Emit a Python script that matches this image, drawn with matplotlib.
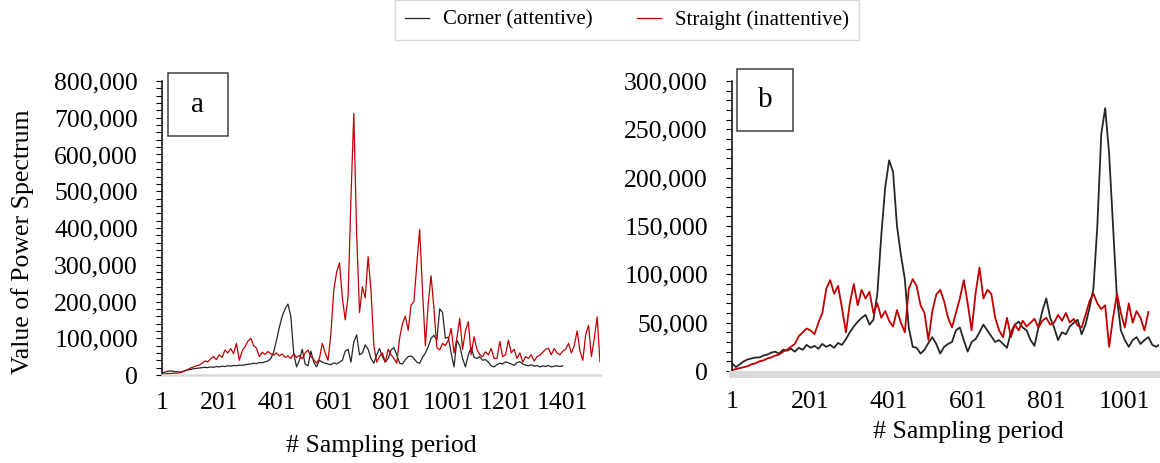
import numpy as np
import matplotlib
matplotlib.use("Agg")
import matplotlib.pyplot as plt
from matplotlib.ticker import MultipleLocator, FuncFormatter
from matplotlib.patches import Rectangle

plt.rcParams['font.family'] = ['Liberation Serif', 'DejaVu Serif']

# values every 10 samples, in thousands
step = 10

a_corner = [5, 8, 10, 11, 10, 9, 8, 9, 12, 14,
            15, 17, 18, 19, 20, 21, 20, 22, 21, 23,
            22, 24, 23, 25, 24, 26, 25, 27, 26, 28,
            29, 30, 32, 31, 34, 33, 36, 38, 45, 62,
            95, 130, 160, 180, 193, 160, 60, 22, 40, 70,
            30, 25, 65, 35, 22, 40, 35, 32, 30, 28,
            33, 30, 35, 40, 65, 70, 35, 90, 109, 55,
            60, 82, 70, 45, 32, 55, 72, 50, 35, 45,
            68, 75, 55, 32, 30, 42, 50, 52, 45, 35,
            32, 48, 60, 77, 100, 108, 95, 180, 170, 100,
            103, 60, 22, 95, 80, 45, 22, 55, 75, 48,
            45, 50, 40, 42, 35, 25, 22, 28, 32, 30,
            36, 33, 30, 26, 34, 36, 30, 27, 25, 28,
            24, 26, 22, 25, 23, 26, 22, 24, 25, 23,
            25]

a_straight = [2, 3, 4, 4, 5, 5, 6, 8, 11, 15,
              19, 22, 25, 27, 32, 38, 36, 44, 50, 42,
              55, 48, 68, 60, 72, 58, 86, 40, 65, 77,
              92, 100, 80, 73, 50, 62, 56, 64, 58, 54,
              60, 52, 57, 48, 52, 45, 58, 48, 53, 44,
              60, 68, 50, 42, 32, 45, 86, 60, 40, 113,
              230, 280, 305, 210, 150, 213, 480, 712, 380, 170,
              240, 210, 322, 230, 80, 35, 50, 60, 35, 70,
              55, 45, 32, 100, 140, 160, 122, 190, 200, 300,
              396, 230, 80, 195, 270, 180, 75, 68, 86, 80,
              95, 127, 60, 100, 154, 70, 120, 145, 55, 104,
              70, 55, 50, 63, 55, 72, 45, 45, 91, 50,
              55, 95, 60, 70, 45, 60, 35, 50, 45, 55,
              38, 50, 54, 62, 70, 73, 55, 72, 60, 55,
              65, 70, 86, 60, 80, 120, 65, 40, 110, 135,
              50, 100, 158, 36]

b_corner = [8, 4, 7, 10, 12, 13, 14, 14, 16, 17,
            19, 20, 18, 22, 21, 23, 20, 24, 22, 27,
            24, 26, 23, 28, 25, 27, 24, 29, 27, 33,
            40, 46, 51, 55, 58, 48, 53, 80, 140, 190,
            218, 206, 150, 120, 95, 45, 25, 24, 18, 22,
            29, 35, 28, 18, 25, 28, 30, 42, 45, 32,
            20, 30, 33, 40, 48, 42, 36, 30, 32, 28,
            24, 40, 48, 51, 45, 42, 32, 26, 45, 62,
            75, 55, 45, 32, 40, 38, 46, 50, 53, 38,
            48, 65, 85, 150, 245, 272, 225, 150, 75, 42,
            32, 25, 32, 35, 28, 32, 35, 27, 25, 28]

b_straight = [1, 2, 3, 4, 5, 7, 8, 10, 11, 13,
              14, 16, 17, 20, 22, 25, 28, 36, 40, 44,
              42, 38, 50, 60, 85, 94, 80, 88, 65, 40,
              70, 90, 68, 84, 75, 82, 60, 70, 55, 62,
              52, 46, 63, 50, 40, 85, 95, 88, 68, 60,
              32, 62, 79, 84, 72, 55, 45, 60, 75, 94,
              70, 42, 80, 107, 75, 84, 80, 55, 42, 35,
              55, 35, 48, 42, 52, 46, 50, 54, 45, 52,
              55, 48, 50, 58, 52, 60, 50, 54, 47, 45,
              58, 72, 80, 70, 64, 68, 25, 55, 80, 60,
              45, 70, 50, 62, 55, 42, 61]

a_ticks = [1, 201, 401, 601, 801, 1001, 1201, 1401]
b_ticks = [1, 201, 401, 601, 801, 1001]

black = '#262626'
red = '#c00000'


def xs(vals):
    return 1 + step * np.arange(len(vals))


def ys(vals):
    return np.array(vals) * 1000.0


fig = plt.figure(figsize=(11.6, 4.63), dpi=100)
W, H = 1160.0, 463.0

ax_a = fig.add_axes([162 / W, (H - 375) / H, 438 / W, 294 / H])
ax_b = fig.add_axes([732 / W, (H - 371) / H, 427 / W, 290 / H])

l1, = ax_a.plot(xs(a_corner), ys(a_corner), color=black, lw=0.9)
l2, = ax_a.plot(xs(a_straight), ys(a_straight), color=red, lw=0.9)
ax_b.plot(xs(b_corner), ys(b_corner), color=black, lw=1.3)
ax_b.plot(xs(b_straight), ys(b_straight), color=red, lw=1.3)

ax_a.set_xlim(1, 1531)
ax_a.set_ylim(0, 800000)
ax_b.set_xlim(1, 1088)
ax_b.set_ylim(0, 300000)

ax_a.yaxis.set_major_locator(MultipleLocator(100000))
ax_a.yaxis.set_minor_locator(MultipleLocator(20000))
ax_b.yaxis.set_major_locator(MultipleLocator(50000))
ax_b.yaxis.set_minor_locator(MultipleLocator(10000))
ax_a.set_xticks(a_ticks)
ax_b.set_xticks(b_ticks)

fmt = FuncFormatter(lambda v, p: '{:,.0f}'.format(v))
for ax in (ax_a, ax_b):
    ax.yaxis.set_major_formatter(fmt)
    ax.spines['top'].set_visible(False)
    ax.spines['right'].set_visible(False)
    ax.spines['left'].set_linewidth(1.1)
    ax.spines['left'].set_color('black')
    ax.tick_params(axis='y', which='both', direction='out', length=4.3,
                   width=0.8, labelsize=18.5, pad=13)
    ax.tick_params(axis='x', length=0, labelsize=18.5, pad=12)

ax_a.spines['bottom'].set_color('#d9d9d9')
ax_a.spines['bottom'].set_linewidth(1.8)
ax_b.spines['bottom'].set_color('#d9d9d9')
ax_b.spines['bottom'].set_linewidth(5)
ax_b.spines['bottom'].set_position(('outward', 2.5))

ax_a.set_ylabel('Value of Power Spectrum', fontsize=18.5)
ax_a.yaxis.set_label_coords((23 - 162) / 438, (375 - 242) / 294)
ax_a.yaxis.label.set_va('center')

ax_a.set_xlabel('# Sampling period', fontsize=18.5)
ax_a.xaxis.set_label_coords(0.5, (375 - 446) / 294)
ax_a.xaxis.label.set_va('center')
ax_b.set_xlabel('# Sampling period', fontsize=18.5)
ax_b.xaxis.set_label_coords((968 - 732) / 427, (371 - 432) / 290)
ax_b.xaxis.label.set_va('center')

# panel letters
for (x0, y0, x1, y1, txt) in [(168, 73, 228, 136, 'a'), (737, 69, 793, 131, 'b')]:
    fig.add_artist(Rectangle((x0 / W, (H - y1) / H), (x1 - x0) / W, (y1 - y0) / H,
                             transform=fig.transFigure, fill=False,
                             edgecolor='#404040', lw=1.1))
    fig.text((x0 + x1) / 2 / W, (H - (y0 + y1) / 2) / H, txt, fontsize=21,
             ha='center', va='center')

leg = fig.legend([l1, l2], ['Corner (attentive)', 'Straight (inattentive)'],
                 loc='center', bbox_to_anchor=(627 / W, (H - 20) / H), ncol=2,
                 fontsize=15, frameon=True, fancybox=False, edgecolor='#d0d0d0',
                 handlelength=1.15, handletextpad=0.67, columnspacing=2.1,
                 borderpad=0.5)
leg.get_frame().set_linewidth(1.0)

fig.savefig('out.png', dpi=100)
